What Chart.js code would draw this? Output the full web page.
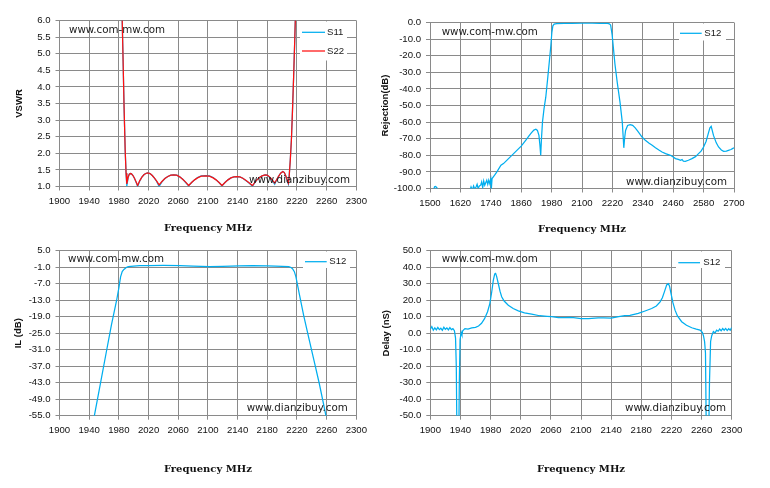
<!DOCTYPE html>
<html><head><meta charset="utf-8">
<script src="https://cdn.jsdelivr.net/npm/chart.js@4.4.1/dist/chart.umd.min.js"></script>
<style>
html,body{margin:0;padding:0;background:#fff;}
body{width:770px;height:488px;position:relative;overflow:hidden;}
canvas{position:absolute;}
</style></head><body>
<canvas id="c1" width="372" height="240" style="left:0;top:0"></canvas>
<canvas id="c2" width="400" height="240" style="left:370px;top:0"></canvas>
<canvas id="c3" width="372" height="248" style="left:0;top:240px"></canvas>
<canvas id="c4" width="400" height="248" style="left:370px;top:240px"></canvas>
<script>
// ---------- DATA ----------
const vswrFreq = [1979, 1982, 1984, 1985.5, 1987, 1988.5, 1989.7, 1990.7, 1992.5, 1994, 1995.5, 1997, 1999, 2001, 2003, 2005.3, 2008, 2011, 2014, 2017, 2019, 2022, 2025, 2028, 2031, 2034.2, 2038, 2042, 2046, 2050, 2054, 2058, 2062, 2066, 2070, 2074, 2078, 2082, 2086, 2091, 2097, 2102, 2107, 2111, 2115, 2119, 2123, 2127, 2131, 2135, 2139, 2143, 2147, 2151, 2155, 2160, 2163, 2166, 2170, 2173, 2177, 2180, 2183, 2186, 2190, 2192, 2195, 2198, 2201, 2203, 2205, 2207, 2208.5, 2209.5, 2211, 2212.5, 2214, 2215.5, 2217, 2218.5, 2221];
const vswrS11 = [10, 8, 6.5, 5.0, 3.4, 2.1, 1.4, 1.01, 1.27, 1.37, 1.39, 1.38, 1.33, 1.25, 1.14, 1.00, 1.16, 1.28, 1.36, 1.40, 1.41, 1.39, 1.33, 1.25, 1.15, 1.00, 1.14, 1.24, 1.30, 1.34, 1.35, 1.34, 1.29, 1.22, 1.12, 1.02, 1.12, 1.20, 1.27, 1.32, 1.33, 1.32, 1.27, 1.20, 1.12, 1.02, 1.12, 1.20, 1.26, 1.29, 1.30, 1.29, 1.25, 1.18, 1.11, 1.01, 1.11, 1.20, 1.28, 1.32, 1.35, 1.34, 1.28, 1.20, 1.07, 1.17, 1.30, 1.40, 1.45, 1.42, 1.31, 1.16, 1.07, 1.3, 1.8, 2.4, 3.3, 4.3, 5.4, 6.6, 9];
const vswrS22 = [10, 8, 6.5, 5.0, 3.4, 2.1, 1.4, 1.08, 1.28, 1.37, 1.39, 1.38, 1.33, 1.25, 1.15, 1.03, 1.17, 1.28, 1.36, 1.40, 1.41, 1.39, 1.33, 1.25, 1.16, 1.05, 1.15, 1.24, 1.30, 1.34, 1.35, 1.34, 1.29, 1.22, 1.13, 1.03, 1.12, 1.20, 1.26, 1.31, 1.32, 1.31, 1.26, 1.20, 1.12, 1.03, 1.12, 1.20, 1.26, 1.29, 1.30, 1.29, 1.25, 1.19, 1.12, 1.03, 1.12, 1.20, 1.28, 1.32, 1.35, 1.34, 1.29, 1.22, 1.10, 1.18, 1.30, 1.40, 1.45, 1.42, 1.32, 1.18, 1.10, 1.3, 1.8, 2.4, 3.3, 4.3, 5.4, 6.6, 9];

const rejFreq = [1500, 1510, 1518, 1522, 1527, 1532, 1550, 1580, 1610, 1640, 1658, 1662, 1667, 1672, 1677, 1682, 1686, 1690, 1695, 1700, 1704, 1708, 1712, 1716, 1720, 1724, 1728, 1732, 1736, 1740, 1742, 1745, 1750, 1755, 1762, 1770, 1780, 1790, 1800, 1810, 1820, 1830, 1840, 1850, 1860, 1870, 1880, 1890, 1900, 1910, 1918, 1924, 1930, 1934, 1937, 1940, 1944, 1950, 1957, 1965, 1972, 1977, 1981, 1985, 1990, 2000, 2030, 2060, 2100, 2140, 2170, 2200, 2208, 2213, 2219, 2230, 2239, 2250, 2259, 2263, 2265, 2268, 2272, 2280, 2290, 2300, 2310, 2320, 2337, 2350, 2365, 2377, 2390, 2405, 2416, 2430, 2449, 2460, 2469, 2480, 2489, 2495, 2500, 2508, 2520, 2534, 2548, 2560, 2570, 2580, 2590, 2600, 2605, 2610, 2614, 2619, 2630, 2639, 2650, 2659, 2670, 2678, 2688, 2694, 2700];
const rejS12 = [-104, -103, -99, -98.8, -99.5, -102, -105, -104, -106, -104, -101, -99, -101, -98.5, -100.5, -99, -97.5, -100, -98.5, -98, -96, -99.5, -95.5, -98, -96.5, -95, -97.5, -95, -97, -94.5, -100.5, -94, -93, -92, -90.5, -88.5, -86, -85, -83.5, -82, -80.5, -79, -77.5, -76, -74.5, -72.5, -70.5, -68.5, -66.5, -64.8, -64.3, -65, -68, -74, -80, -70, -60, -52, -45, -33, -22, -14, -6, -2, -1, -0.7, -0.6, -0.5, -0.45, -0.45, -0.5, -0.6, -0.8, -1.5, -7.5, -25, -36, -48, -60, -70, -75.5, -70, -65, -62, -61.5, -62, -63.5, -65.5, -69, -71, -72.8, -74, -75.5, -77, -78, -79, -80, -81, -82, -82.5, -83, -82.5, -83.5, -83.7, -83, -82, -80.8, -79, -77.5, -75, -71.5, -66, -63.5, -62.6, -65, -68, -72.5, -75, -76.8, -77.6, -77.5, -77, -76.5, -76, -75.5];

const ilFreq = [1940, 1947, 1955, 1963.6, 1970, 1977, 1980, 1982.3, 1984.5, 1986.8, 1990, 1992.6, 2000, 2008, 2020, 2040, 2062, 2080, 2102, 2120, 2142, 2160, 2180, 2191, 2200, 2209, 2212, 2214, 2216.5, 2218.6, 2223, 2229, 2236.6, 2243, 2250, 2256, 2259, 2265];
const ilS12 = [-68, -55, -43.5, -31.1, -22, -13, -8.5, -4.5, -2.6, -1.8, -1.1, -0.8, -0.6, -0.45, -0.4, -0.35, -0.4, -0.55, -0.8, -0.65, -0.5, -0.4, -0.5, -0.6, -0.65, -0.8, -1.1, -1.5, -2.6, -4.5, -10.5, -18.5, -27.5, -35, -43.2, -51, -55, -63];

const delayFreq = [1900, 1902, 1904, 1906, 1908, 1910, 1912, 1914, 1916, 1918, 1920, 1922, 1924, 1926, 1928, 1930, 1932, 1933.5, 1934.5, 1935.5, 1937.5, 1938.5, 1939.5, 1941, 1942, 1943, 1946, 1950, 1955, 1960, 1964, 1968, 1972, 1976, 1979, 1981.5, 1983.6, 1985.5, 1986.7, 1988, 1990.3, 1992.5, 1994.7, 1998, 2003.5, 2010, 2016.8, 2025, 2034.5, 2045, 2055, 2061, 2070, 2078.8, 2085, 2090, 2100, 2110, 2123, 2130, 2140, 2150, 2158, 2165, 2176, 2185, 2193.8, 2200, 2205, 2208, 2211, 2213.7, 2216, 2217.5, 2219.5, 2222, 2224.8, 2228, 2233.6, 2240, 2247, 2253, 2258, 2261, 2262.5, 2264, 2265.2, 2266.5, 2269, 2270.5, 2272, 2273.5, 2275.7, 2278, 2280, 2282, 2284, 2286, 2288, 2290, 2292, 2294, 2296, 2298, 2300];
const delayS12 = [2.5, 4, 1.8, 3.2, 2, 3.5, 2.2, 3, 1.8, 3.6, 2.4, 3.2, 2, 3.4, 2.2, 2.8, 1.5, -3, -20, -70, -80, -30, -4, 0.5, -1, 1.5, 2.8, 2.5, 3.2, 3.6, 4.4, 6, 8.8, 13, 18, 25, 32, 36, 36.3, 34.5, 30, 25.5, 22.1, 19.5, 17, 15, 13.6, 12.4, 11.6, 10.6, 10.2, 10, 9.4, 9.4, 9.6, 9.4, 8.9, 8.8, 9.3, 9.3, 9.2, 10, 10.6, 10.8, 12, 13.5, 15, 16.5, 19, 21.5, 25.5, 29.3, 30, 28.5, 24, 18.5, 14, 10.5, 7, 4.8, 3.3, 2.5, 1.9, 0.5, -1.5, -5, -12, -70, -80, -30, -5, -1.5, 1, 0.2, 1.8, 1.2, 2.5, 1.5, 2.8, 1.8, 2.9, 1.6, 2.7, 1.8, 3.5];

const xTitle = 'Frequency MHz';
const watermarkTop = 'www.com-mw.com';
const watermarkBottom = 'www.dianzibuy.com';

// ---------- STYLE ----------
const BLUE = '#00AEEF', RED = '#FF1010', GRID = '#8a8a8a', TXT = '#111';
const TICK_FONT = {family: '"Liberation Sans", Arial, sans-serif', size: 9.6};
const YT_FONT = {family: '"Liberation Sans", Arial, sans-serif', size: 9.5, weight: 'bold'};
const XT_FONT = {family: '"DejaVu Serif", serif', size: 10, weight: 'bold'};

const overlayPlugin = {
  id: 'overlay',
  afterDatasetsDraw(chart, args, o) {
    const ctx = chart.ctx;
    ctx.save();
    ctx.textBaseline = 'middle';
    ctx.textAlign = 'left';
    ctx.fillStyle = '#1a1a1a';
    ctx.font = '10.3px "DejaVu Sans", sans-serif';
    o.marks.forEach(m => ctx.fillText(m.text, m.x - o.ox, m.y - o.oy));
    const L = o.legend;
    ctx.fillStyle = '#fff';
    ctx.fillRect(L.x - o.ox, L.y - o.oy, L.w, L.h);
    ctx.font = '9.6px "Liberation Sans", Arial, sans-serif';
    chart.data.datasets.forEach((ds, i) => {
      const y = L.rows[i] - o.oy;
      ctx.strokeStyle = ds.borderColor;
      ctx.lineWidth = ds.borderWidth;
      ctx.beginPath();
      ctx.moveTo(L.x1 - o.ox, y);
      ctx.lineTo(L.x2 - o.ox, y);
      ctx.stroke();
      ctx.fillStyle = '#1a1a1a';
      ctx.fillText(ds.label, L.tx - o.ox, y);
    });
    ctx.restore();
  }
};

function xy(xs, ys) { return xs.map((x, i) => ({x: x, y: ys[i]})); }

function build(id, c) {
  new Chart(document.getElementById(id), {
    type: 'line',
    data: {
      datasets: c.series.map(s => ({
        label: s.label, data: xy(c.freq, s.values), borderColor: s.color,
        borderWidth: 1.25, pointRadius: 0, tension: 0, fill: false, order: s.order
      }))
    },
    options: {
      responsive: false, animation: false, events: [],
      layout: {padding: {left: 0, top: c.padTop, right: c.padRight, bottom: 0}},
      plugins: {legend: {display: false}, tooltip: {enabled: false}, overlay: c.overlay},
      scales: {
        x: {
          type: 'linear', position: 'bottom', min: c.xMin, max: c.xMax,
          ticks: {stepSize: c.xStep, autoSkip: false, maxRotation: 0, color: TXT, font: TICK_FONT, padding: 5,
                  callback: v => String(v)},
          grid: {color: GRID, lineWidth: 1, tickLength: 4, drawTicks: true},
          border: {color: GRID},
          title: {display: true, text: xTitle, color: TXT, font: XT_FONT, padding: {top: 0, bottom: c.xTitlePad}},
          afterFit: s => { s.height = c.xHeight; }
        },
        y: {
          type: 'linear', position: 'left', min: c.yMin, max: c.yMax,
          ticks: {stepSize: c.yStep, autoSkip: false, color: TXT, font: TICK_FONT, padding: 5,
                  callback: v => Number(v).toFixed(1)},
          grid: {color: GRID, lineWidth: 1, tickLength: 4, drawTicks: true},
          border: {color: GRID},
          title: {display: true, text: c.yTitle, color: TXT, font: YT_FONT, padding: {top: c.yTitlePad, bottom: 0}},
          afterFit: s => { s.width = c.yWidth; }
        }
      }
    },
    plugins: [overlayPlugin]
  });
}

build('c1', {
  freq: vswrFreq,
  series: [{label: 'S11', values: vswrS11, color: BLUE, order: 1}, {label: 'S22', values: vswrS22, color: RED, order: 0}],
  xMin: 1900, xMax: 2300, xStep: 40, yMin: 1, yMax: 6, yStep: 0.5, yTitle: 'VSWR',
  padTop: 20.5, padRight: 14.5, xHeight: 53.5, yWidth: 59.5, xTitlePad: 5.7, yTitlePad: 13.4,
  overlay: {ox: 0, oy: 0,
    marks: [{text: watermarkTop, x: 69, y: 30.7}, {text: watermarkBottom, x: 249, y: 180}],
    legend: {x: 300, y: 21.5, w: 47, h: 39, x1: 302, x2: 325, tx: 327, rows: [32.3, 51]}}
});

build('c2', {
  freq: rejFreq,
  series: [{label: 'S12', values: rejS12, color: BLUE, order: 0}],
  xMin: 1500, xMax: 2700, xStep: 120, yMin: -100, yMax: 0, yStep: 10, yTitle: 'Rejection(dB)',
  padTop: 22.5, padRight: 36, xHeight: 51.5, yWidth: 60, xTitlePad: 4.7, yTitlePad: 9.3,
  overlay: {ox: 370, oy: 0,
    marks: [{text: watermarkTop, x: 441.7, y: 32.7}, {text: watermarkBottom, x: 626, y: 182.3}],
    legend: {x: 679, y: 23.5, w: 47, h: 17, x1: 680, x2: 701.7, tx: 704.3, rows: [33.3]}}
});

build('c3', {
  freq: ilFreq,
  series: [{label: 'S12', values: ilS12, color: BLUE, order: 0}],
  xMin: 1900, xMax: 2300, xStep: 40, yMin: -55, yMax: 5, yStep: 6, yTitle: 'IL (dB)',
  padTop: 10.7, padRight: 14.5, xHeight: 72.3, yWidth: 59.5, xTitlePad: 12.7, yTitlePad: 12.6,
  overlay: {ox: 0, oy: 240,
    marks: [{text: watermarkTop, x: 68, y: 259.3}, {text: watermarkBottom, x: 246.7, y: 408.3}],
    legend: {x: 303, y: 251.5, w: 47, h: 16.5, x1: 305, x2: 326.7, tx: 329.3, rows: [261.7]}}
});

build('c4', {
  freq: delayFreq,
  series: [{label: 'S12', values: delayS12, color: BLUE, order: 0}],
  xMin: 1900, xMax: 2300, xStep: 40, yMin: -50, yMax: 50, yStep: 10, yTitle: 'Delay (nS)',
  padTop: 10.7, padRight: 38.3, xHeight: 72.3, yWidth: 60.3, xTitlePad: 12.7, yTitlePad: 10.3,
  overlay: {ox: 370, oy: 240,
    marks: [{text: watermarkTop, x: 441.7, y: 259.3}, {text: watermarkBottom, x: 625, y: 408.3}],
    legend: {x: 676, y: 251.5, w: 49, h: 16.5, x1: 678.3, x2: 700, tx: 703.3, rows: [262.7]}}
});
</script>
</body></html>
